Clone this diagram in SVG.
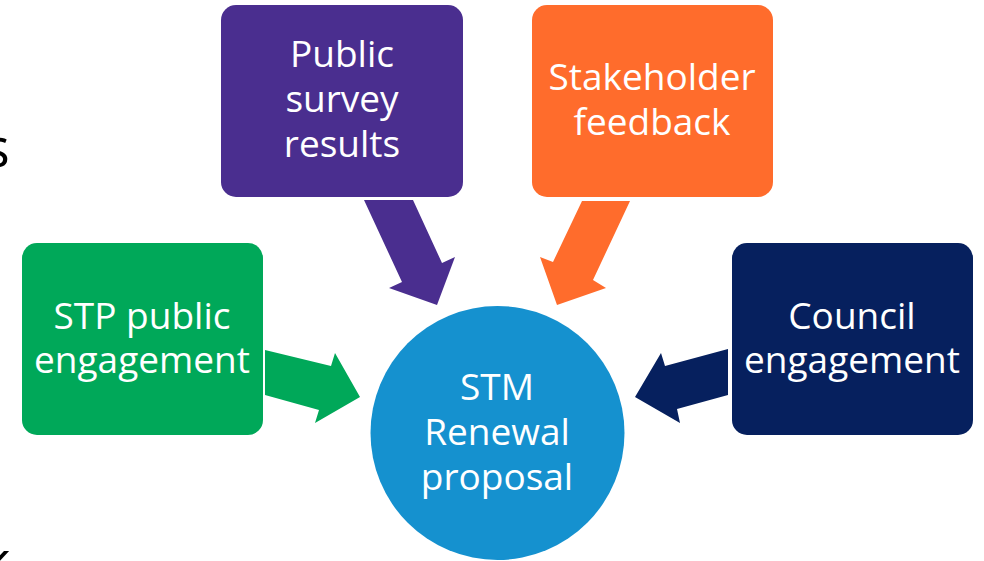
<svg xmlns="http://www.w3.org/2000/svg" width="984" height="561" viewBox="0 0 984 561">
<style>
.t{font-family:"Open Sans","Noto Sans","DejaVu Sans",sans-serif;font-size:37px;fill:#fff;text-anchor:middle}
.b{font-family:"Open Sans","Noto Sans","DejaVu Sans",sans-serif;font-size:54px;fill:#000}
</style>
<rect width="984" height="561" fill="#fff"/>
<text class="b" x="-16" y="167">s</text>
<text class="b" x="-18" y="580">k</text>
<g id="connectors">
<polygon fill="#00A859" points="265,350 331,366 335,353 360,397 315,423 319,410 265,395"/>
<polygon fill="#4A2E8F" points="364,200 413,200 442,263 455,257 437,305 389,288 402,282"/>
<polygon fill="#FF6C2C" points="582,201 630,201 593,280 606,288 557,305 540,257 553,262"/>
<polygon fill="#06205E" points="728,349 665,366 661,353 635,397 680,423 677,409 728,395"/>
</g>
<g id="survey">
<rect x="221" y="5" width="242" height="192" rx="15" fill="#4A2E8F"/>
<text class="t" x="342" y="67">Public</text>
<text class="t" x="342" y="112">survey</text>
<text class="t" x="342" y="157">results</text>
</g>
<g id="stakeholder">
<rect x="532" y="5" width="241" height="192" rx="15" fill="#FF6C2C"/>
<text class="t" x="652" y="90">Stakeholder</text>
<text class="t" x="652" y="135">feedback</text>
</g>
<g id="stp">
<rect x="22" y="243" width="241" height="192" rx="15" fill="#00A859"/>
<text class="t" x="142" y="329">STP public</text>
<text class="t" x="142" y="373">engagement</text>
</g>
<g id="council">
<rect x="732" y="243" width="241" height="192" rx="15" fill="#06205E"/>
<text class="t" x="852" y="329">Council</text>
<text class="t" x="852" y="373">engagement</text>
</g>
<g id="stm">
<circle cx="497.5" cy="433" r="127" fill="#1591CF"/>
<text class="t" x="497" y="400">STM</text>
<text class="t" x="497" y="445">Renewal</text>
<text class="t" x="497" y="490">proposal</text>
</g>
</svg>
